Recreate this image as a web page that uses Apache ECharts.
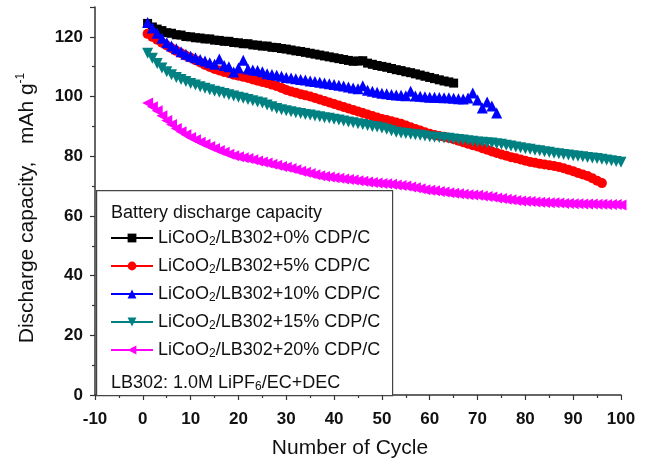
<!DOCTYPE html>
<html>
<head>
<meta charset="utf-8">
<script src="https://cdn.jsdelivr.net/npm/echarts@6/dist/echarts.min.js"></script>
<style>html,body{margin:0;padding:0;background:#fff;}#c{width:652px;height:464px;}</style>
</head>
<body>
<div id="c"></div>
<script>
// x axis tick values
var xTicks = [-10, 0, 10, 20, 30, 40, 50, 60, 70, 80, 90, 100];
var firstCycle = 1;
var seriesNames = ['LiCoO2/LB302+0% CDP/C', 'LiCoO2/LB302+5% CDP/C', 'LiCoO2/LB302+10% CDP/C', 'LiCoO2/LB302+15% CDP/C', 'LiCoO2/LB302+20% CDP/C'];

var cdp0 = [124.5,123.3,122.6,122.1,121.4,121.2,120.7,120.6,120.1,120.0,119.7,119.6,119.3,119.3,118.9,118.8,118.5,118.5,118.1,118.0,
  117.7,117.7,117.3,117.2,116.9,116.9,116.5,116.4,116.1,115.9,115.6,115.3,115.1,114.8,114.5,114.2,113.9,113.6,113.3,113.0,
  112.7,112.4,112.1,111.8,111.9,112.0,111.2,110.8,110.4,110.1,109.8,109.4,109.0,108.7,108.3,108.0,107.6,107.2,106.8,106.4,
  106.0,105.6,105.2,104.9,104.5];

var cdp5 = [121.0,120.0,119.0,118.0,117.1,116.2,115.3,114.5,113.7,113.0,112.2,111.4,110.6,109.9,109.2,108.7,108.2,107.8,107.3,107.0,
  106.6,106.2,105.7,105.3,104.9,104.5,104.0,103.5,102.9,102.2,101.7,101.3,100.8,100.4,100.0,99.5,99.0,98.5,98.0,97.5,
  97.0,96.5,96.0,95.5,95.0,94.5,94.0,93.5,93.0,92.5,92.1,91.7,91.3,90.9,90.3,89.7,89.1,88.6,88.0,87.5,
  87.1,86.8,86.5,86.1,85.7,85.2,84.7,84.2,83.7,83.3,82.7,82.2,81.6,81.1,80.6,80.2,79.7,79.3,78.9,78.5,
  78.1,77.8,77.5,77.2,77.0,76.7,76.4,76.0,75.5,75.0,74.4,73.9,73.4,72.6,71.8,71.0];

var cdp10 = [124.8,123.0,121.2,119.5,118.0,116.9,116.0,115.0,114.2,113.5,113.0,112.4,111.9,111.3,110.8,112.6,110.4,110.0,108.2,109.6,
  112.2,109.2,108.9,108.7,108.3,107.6,107.4,107.1,106.8,106.4,106.2,106.0,105.7,105.5,105.2,105.0,104.8,104.5,104.3,104.0,
  103.8,103.5,103.2,102.9,102.6,103.6,102.1,101.8,101.4,101.1,100.9,100.7,100.5,100.4,100.3,101.8,100.2,100.1,99.9,99.8,
  99.8,99.7,99.6,99.6,99.4,99.3,99.2,99.5,101.2,98.8,96.2,98.2,96.8,94.5];

var cdp15 = [114.5,112.8,111.1,109.6,108.3,107.3,106.4,105.7,105.0,104.4,103.9,103.3,102.8,102.3,101.8,101.4,101.0,100.6,100.2,99.8,
  99.4,99.0,98.6,98.2,97.8,97.2,96.6,96.0,95.6,95.2,94.9,94.6,94.3,94.0,93.8,93.5,93.2,92.9,92.7,92.4,
  92.1,91.8,91.5,91.2,90.9,90.6,90.3,90.0,89.8,89.5,89.0,88.5,88.0,87.8,87.6,87.4,87.2,87.0,86.8,86.5,
  86.4,86.3,86.1,86.0,85.8,85.6,85.4,85.2,85.0,84.8,84.7,84.5,84.4,84.2,84.0,83.7,83.4,83.1,82.8,82.5,
  82.3,82.0,81.8,81.5,81.3,81.0,80.8,80.6,80.4,80.2,80.0,79.8,79.6,79.4,79.2,79.0,78.7,78.5,78.2,78.0];

var cdp20 = [97.8,96.6,95.2,93.6,92.0,90.6,89.3,88.2,87.2,86.3,85.5,84.7,84.0,83.3,82.6,81.9,81.3,80.7,80.2,79.8,
  79.5,79.2,78.8,78.4,78.1,77.7,77.3,77.0,76.6,76.3,75.9,75.5,75.0,74.6,74.2,73.8,73.5,73.2,73.0,72.8,
  72.6,72.4,72.2,72.0,71.8,71.6,71.4,71.2,71.0,70.9,70.8,70.6,70.4,70.2,70.0,69.7,69.4,69.1,68.8,68.6,
  68.4,68.2,68.0,67.8,67.6,67.4,67.3,67.1,67.0,66.9,66.7,66.5,66.3,66.0,65.8,65.6,65.4,65.2,65.0,64.9,
  64.8,64.7,64.6,64.5,64.4,64.4,64.3,64.2,64.2,64.1,64.1,64.0,64.0,64.0,63.9,63.9,63.8,63.8,63.8,63.7];

function pairs(arr) { return arr.map(function (v, i) { return [firstCycle + i, v]; }); }

var FONT = 'Liberation Sans, Arial, sans-serif';
var chart = echarts.init(document.getElementById('c'), null, {renderer: 'canvas'});

function mk(name, arr, color, symbol, size, rotate) {
  return {
    name: name, type: 'line', data: pairs(arr),
    symbol: symbol, symbolSize: size, symbolRotate: rotate || 0,
    itemStyle: {color: color}, lineStyle: {color: color, width: 1},
    animation: false, clip: false
  };
}

var subRich = {
  n: {fontFamily: FONT, fontSize: 18, color: '#111', lineHeight: 20, verticalAlign: 'middle'},
  s: {fontFamily: FONT, fontSize: 12, color: '#111', lineHeight: 20, verticalAlign: 'bottom', padding: [12, 0, 0, 0]}
};

chart.setOption({
  backgroundColor: '#fff',
  animation: false,
  grid: {left: 95, right: 31, top: 7, bottom: 66, containLabel: false},
  xAxis: {
    type: 'value', min: xTicks[0], max: xTicks[xTicks.length - 1], interval: 10,
    name: 'Number of Cycle', nameLocation: 'middle', nameGap: 43,
    nameTextStyle: {fontFamily: FONT, fontSize: 21, color: '#111', padding: [0, 16, 0, 0]},
    axisLine: {onZero: false, lineStyle: {color: '#333', width: 1.5}},
    axisTick: {show: true, inside: false, length: 5, lineStyle: {color: '#333', width: 1.2}},
    minorTick: {show: true, splitNumber: 2, length: 3, lineStyle: {color: '#333', width: 1.2}},
    axisLabel: {fontFamily: FONT, fontSize: 17, fontWeight: 'bold', color: '#111', margin: 16},
    splitLine: {show: false}
  },
  yAxis: {
    type: 'value', min: 0, max: 130, interval: 20,
    name: 'Discharge capacity,   mAh g{sup|-1}', nameLocation: 'middle', nameGap: 55, nameRotate: 90,
    nameTextStyle: {fontFamily: FONT, fontSize: 21, color: '#111', padding: [0, 14, 0, 0],
      rich: {sup: {fontFamily: FONT, fontSize: 12, color: '#111', verticalAlign: 'top', padding: [0, 0, 13, 0]}}},
    axisLine: {show: true, onZero: false, lineStyle: {color: '#333', width: 1.5}},
    axisTick: {show: true, inside: false, length: 5, lineStyle: {color: '#333', width: 1.2}},
    minorTick: {show: true, splitNumber: 2, length: 3, lineStyle: {color: '#333', width: 1.2}},
    axisLabel: {fontFamily: FONT, fontSize: 17, fontWeight: 'bold', color: '#111', margin: 12, showMaxLabel: false},
    splitLine: {show: false}
  },
  legend: {
    orient: 'vertical', left: 105, top: 219, itemWidth: 42, itemHeight: 11, itemGap: 4, z: 20,
    data: seriesNames,
    formatter: function (n) { return '{n|' + n.replace('O2', 'O}{s|2}{n|') + '}'; },
    textStyle: {fontFamily: FONT, fontSize: 18, color: '#111', rich: subRich}
  },
  graphic: [
    {type: 'rect', left: 96, top: 190, z: 3, shape: {width: 296, height: 205},
      style: {fill: '#fff', stroke: '#444', lineWidth: 1.2}},
    {type: 'text', left: 111, top: 204, z: 21,
      style: {text: 'Battery discharge capacity', fontFamily: FONT, fontSize: 18, fill: '#111'}},
    {type: 'text', left: 111, top: 369, z: 21,
      style: {text: '{n|LB302: 1.0M LiPF}{s|6}{n|/EC+DEC}', rich: subRich, fill: '#111'}}
  ],
  series: [
    mk(seriesNames[0], cdp0, '#000000', 'rect', 9),
    mk(seriesNames[1], cdp5, '#ff0000', 'circle', 10),
    mk(seriesNames[2], cdp10, '#0000ff', 'triangle', 11),
    mk(seriesNames[3], cdp15, '#008080', 'triangle', 11, 180),
    mk(seriesNames[4], cdp20, '#ff00ff', 'triangle', 11, 90)
  ]
});
</script>
</body>
</html>
